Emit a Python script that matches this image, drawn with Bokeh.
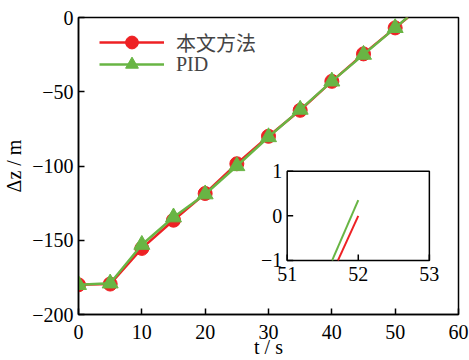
import numpy as np
from bokeh.plotting import figure
from bokeh.models import Range1d, Legend, LegendItem, FixedTicker
from bokeh.core.properties import value
from bokeh.embed import file_html
from bokeh.resources import INLINE

# ---------------- data ----------------
t = [0, 5, 10, 15, 20, 25, 30, 35, 40, 45, 50, 52]
dz_ours = [-180, -179.5, -155.5, -136.5, -118.5, -98.5, -80, -62.5, -43, -24.5, -7, 0.0]
dz_pid = [-180, -179, -153, -134.5, -119, -100, -80.5, -62, -43, -25, -7, 0.35]
n_markers = 11  # markers are drawn at t = 0 ... 50

series_names = ["本文方法", "PID"]
x_title = "t / s"
y_title = "Δz / m"
x_ticks = [0, 10, 20, 30, 40, 50, 60]
y_ticks = [-200, -150, -100, -50, 0]
inset_x_ticks = [51, 52, 53]
inset_y_ticks = [-1, 0, 1]

# ---------------- style ----------------
RED = "#ee2124"
GREEN = "#68b544"
SERIF = "Liberation Serif"
FS = "20px"

def minus(v):
    return str(v).replace("-", "\u2212")

p = figure(width=469, height=360, output_backend="svg", toolbar_location=None,
           x_range=Range1d(0, 60), y_range=Range1d(-200, 0),
           min_border_left=78, min_border_right=11, min_border_top=17, min_border_bottom=46)
p.grid.visible = False
p.outline_line_color = "black"
p.outline_line_width = 1.5
p.background_fill_color = "white"

for ax, ticks in ((p.xaxis[0], x_ticks), (p.yaxis[0], y_ticks)):
    ax.ticker = FixedTicker(ticks=ticks)
    ax.major_label_overrides = {v: minus(v) for v in ticks}
    ax.major_tick_in = 6
    ax.major_tick_out = 0
    ax.minor_tick_line_color = None
    ax.axis_line_width = 1.5
    ax.major_tick_line_width = 1.5
    ax.axis_line_color = "black"
    ax.major_tick_line_color = "black"
    ax.major_label_text_font = SERIF
    ax.major_label_text_font_size = FS
    ax.major_label_text_color = "black"
    ax.axis_label_text_font = SERIF
    ax.axis_label_text_font_size = FS
    ax.axis_label_text_font_style = "normal"
    ax.axis_label_text_color = "black"
p.xaxis.axis_label = x_title
p.yaxis.axis_label = y_title
p.xaxis.major_label_standoff = 10
p.xaxis.axis_label_standoff = -6
p.yaxis.major_label_standoff = 5
p.yaxis.axis_label_standoff = 4

# main curves
r_line = p.line(t, dz_ours, line_color=RED, line_width=2.5)
r_mark = p.scatter(t[:n_markers], dz_ours[:n_markers], marker="circle", size=14,
                   fill_color=RED, line_color=RED)
g_line = p.line(t, dz_pid, line_color=GREEN, line_width=2.5)
g_mark = p.scatter(t[:n_markers], dz_pid[:n_markers], marker="triangle", size=16,
                   fill_color=GREEN, line_color=GREEN)

# two single-item legends so that the rows sit close together with large markers
leg_style = dict(glyph_width=65, glyph_height=32, label_height=20, label_standoff=12,
                 spacing=0, padding=0, margin=0, border_line_alpha=0, background_fill_alpha=0,
                 label_text_font=f"{SERIF}, Noto Sans CJK SC", label_text_font_size=FS)
p.add_layout(Legend(items=[LegendItem(label=series_names[0], renderers=[r_line, r_mark])],
                    location=(21, 256), **leg_style))
p.add_layout(Legend(items=[LegendItem(label=series_names[1], renderers=[g_line, g_mark])],
                    location=(21, 234), **leg_style))

# ---------------- inset (drawn inside the main frame) ----------------
# inset box expressed in main-axis data units (layout)
box_l, box_r, box_b, box_t = 32.95, 55.4, -163.6, -103.5
ix0, ix1 = inset_x_ticks[0], inset_x_ticks[-1]
iy0, iy1 = inset_y_ticks[0], inset_y_ticks[-1]
sx = (ix1 - ix0) / (box_r - box_l)
sy = (iy1 - iy0) / (box_t - box_b)
p.extra_x_ranges = {"inset": Range1d(ix0 - (box_l - 0) * sx, ix1 + (60 - box_r) * sx)}
p.extra_y_ranges = {"inset": Range1d(iy0 - (box_b + 200) * sy, iy1 + (0 - box_t) * sy)}
kw = dict(x_range_name="inset", y_range_name="inset")

def clip_polyline(xs, ys, x0, x1, y0, y1):
    out_x, out_y = [], []
    for i in range(len(xs) - 1):
        xa, ya, xb, yb = xs[i], ys[i], xs[i + 1], ys[i + 1]
        dx, dy = xb - xa, yb - ya
        u0, u1 = 0.0, 1.0
        ok = True
        for pp, qq in ((-dx, xa - x0), (dx, x1 - xa), (-dy, ya - y0), (dy, y1 - ya)):
            if pp == 0:
                if qq < 0:
                    ok = False
                    break
            else:
                r = qq / pp
                if pp < 0:
                    u0 = max(u0, r)
                else:
                    u1 = min(u1, r)
        if ok and u0 <= u1:
            out_x.append([xa + u0 * dx, xa + u1 * dx])
            out_y.append([ya + u0 * dy, ya + u1 * dy])
    return out_x, out_y

p.quad(left=ix0, right=ix1, bottom=iy0, top=iy1, fill_color="white",
       line_color="black", line_width=1.5, **kw)
for ys, col in ((dz_ours, RED), (dz_pid, GREEN)):
    cx, cy = clip_polyline(t, ys, ix0, ix1, iy0, iy1)
    p.multi_line(cx, cy, line_color=col, line_width=2, **kw)

p.ray(x=[ix0] * len(inset_y_ticks), y=inset_y_ticks, length=6, angle=0,
      length_units="screen", line_color="black", line_width=1.5, **kw)
p.ray(x=inset_x_ticks, y=[iy0] * len(inset_x_ticks), length=6, angle=np.pi / 2,
      length_units="screen", line_color="black", line_width=1.5, **kw)
p.text(x=[ix0] * len(inset_y_ticks), y=inset_y_ticks, text=[minus(v) for v in inset_y_ticks],
       x_offset=-5, text_align="right", text_baseline="middle",
       text_font=value(SERIF), text_font_size=FS, text_color="black", **kw)
p.text(x=inset_x_ticks, y=[iy0] * len(inset_x_ticks), text=[minus(v) for v in inset_x_ticks],
       y_offset=7, text_align="center", text_baseline="top",
       text_font=value(SERIF), text_font_size=FS, text_color="black", **kw)

open("out.html", "w").write(file_html(p, INLINE))
